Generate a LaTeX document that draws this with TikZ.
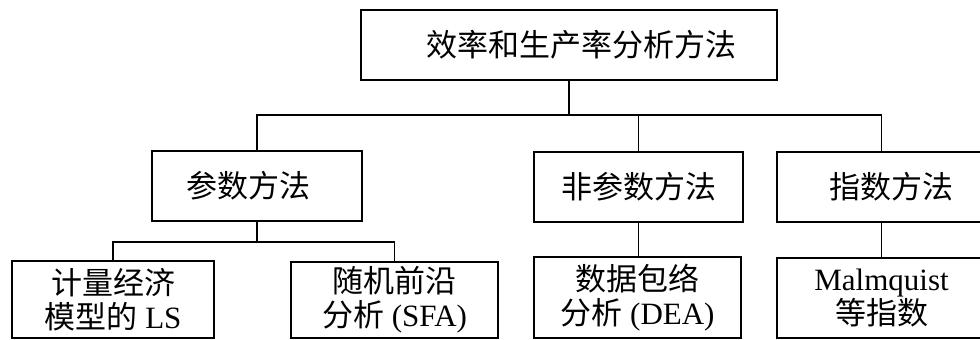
\documentclass[tikz,border=0pt]{standalone}
\usepackage{fontspec}
\setmainfont{Liberation Serif}
\newfontfamily\cjk{Noto Sans CJK SC}
\begin{document}
\begin{tikzpicture}[x=1pt,y=-1pt,
  box/.style={draw, line width=1.5pt, inner sep=0pt, outer sep=0pt, align=center,
    font=\fontsize{31}{34}\selectfont},
  conn/.style={line width=1.4pt}]
\useasboundingbox (0,0) rectangle (980,340);
\node[box, minimum width=416, minimum height=70] (top) at (569,45) {\hspace*{24pt}{\cjk 效率和生产率分析方法}};
\node[box, minimum width=210, minimum height=70] (p) at (257,186) {{\cjk 参数方法}\hspace*{18pt}};
\node[box, minimum width=209, minimum height=70] (np) at (638.5,187) {{\cjk 非参数方法}};
\node[box, minimum width=209, minimum height=70] (idx) at (881.5,187) {\hspace*{20pt}{\cjk 指数方法}};
\node[box, minimum width=202, minimum height=77] (ls) at (113,299.5) {{\cjk 计量经济}\\{\cjk 模型的} LS};
\node[box, minimum width=207, minimum height=76] (sfa) at (394.5,300) {{\cjk 随机前沿}\\{\cjk 分析} (SFA)};
\node[box, minimum width=207, minimum height=81] (dea) at (637.5,297.5) {{\cjk 数据包络}\\{\cjk 分析} (DEA)};
\node[box, minimum width=209, minimum height=80] (mq) at (881.5,298) {Malmquist\\{\cjk 等指数}};
\coordinate (j1) at (569,115);
\coordinate (j2) at (257,242);
\draw[conn] (top.south) -- (top.south |- j1);
\draw[conn] (p.north) |- (idx.north |- j1) -- (idx.north);
\draw[conn] (np.north) -- (np.north |- j1);
\draw[conn] (p.south) -- (p.south |- j2);
\draw[conn] (ls.north) |- (sfa.north |- j2) -- (sfa.north);
\draw[conn] (np.south) -- (np.south |- dea.north);
\draw[conn] (idx.south) -- (mq.north);
\end{tikzpicture}
\end{document}
